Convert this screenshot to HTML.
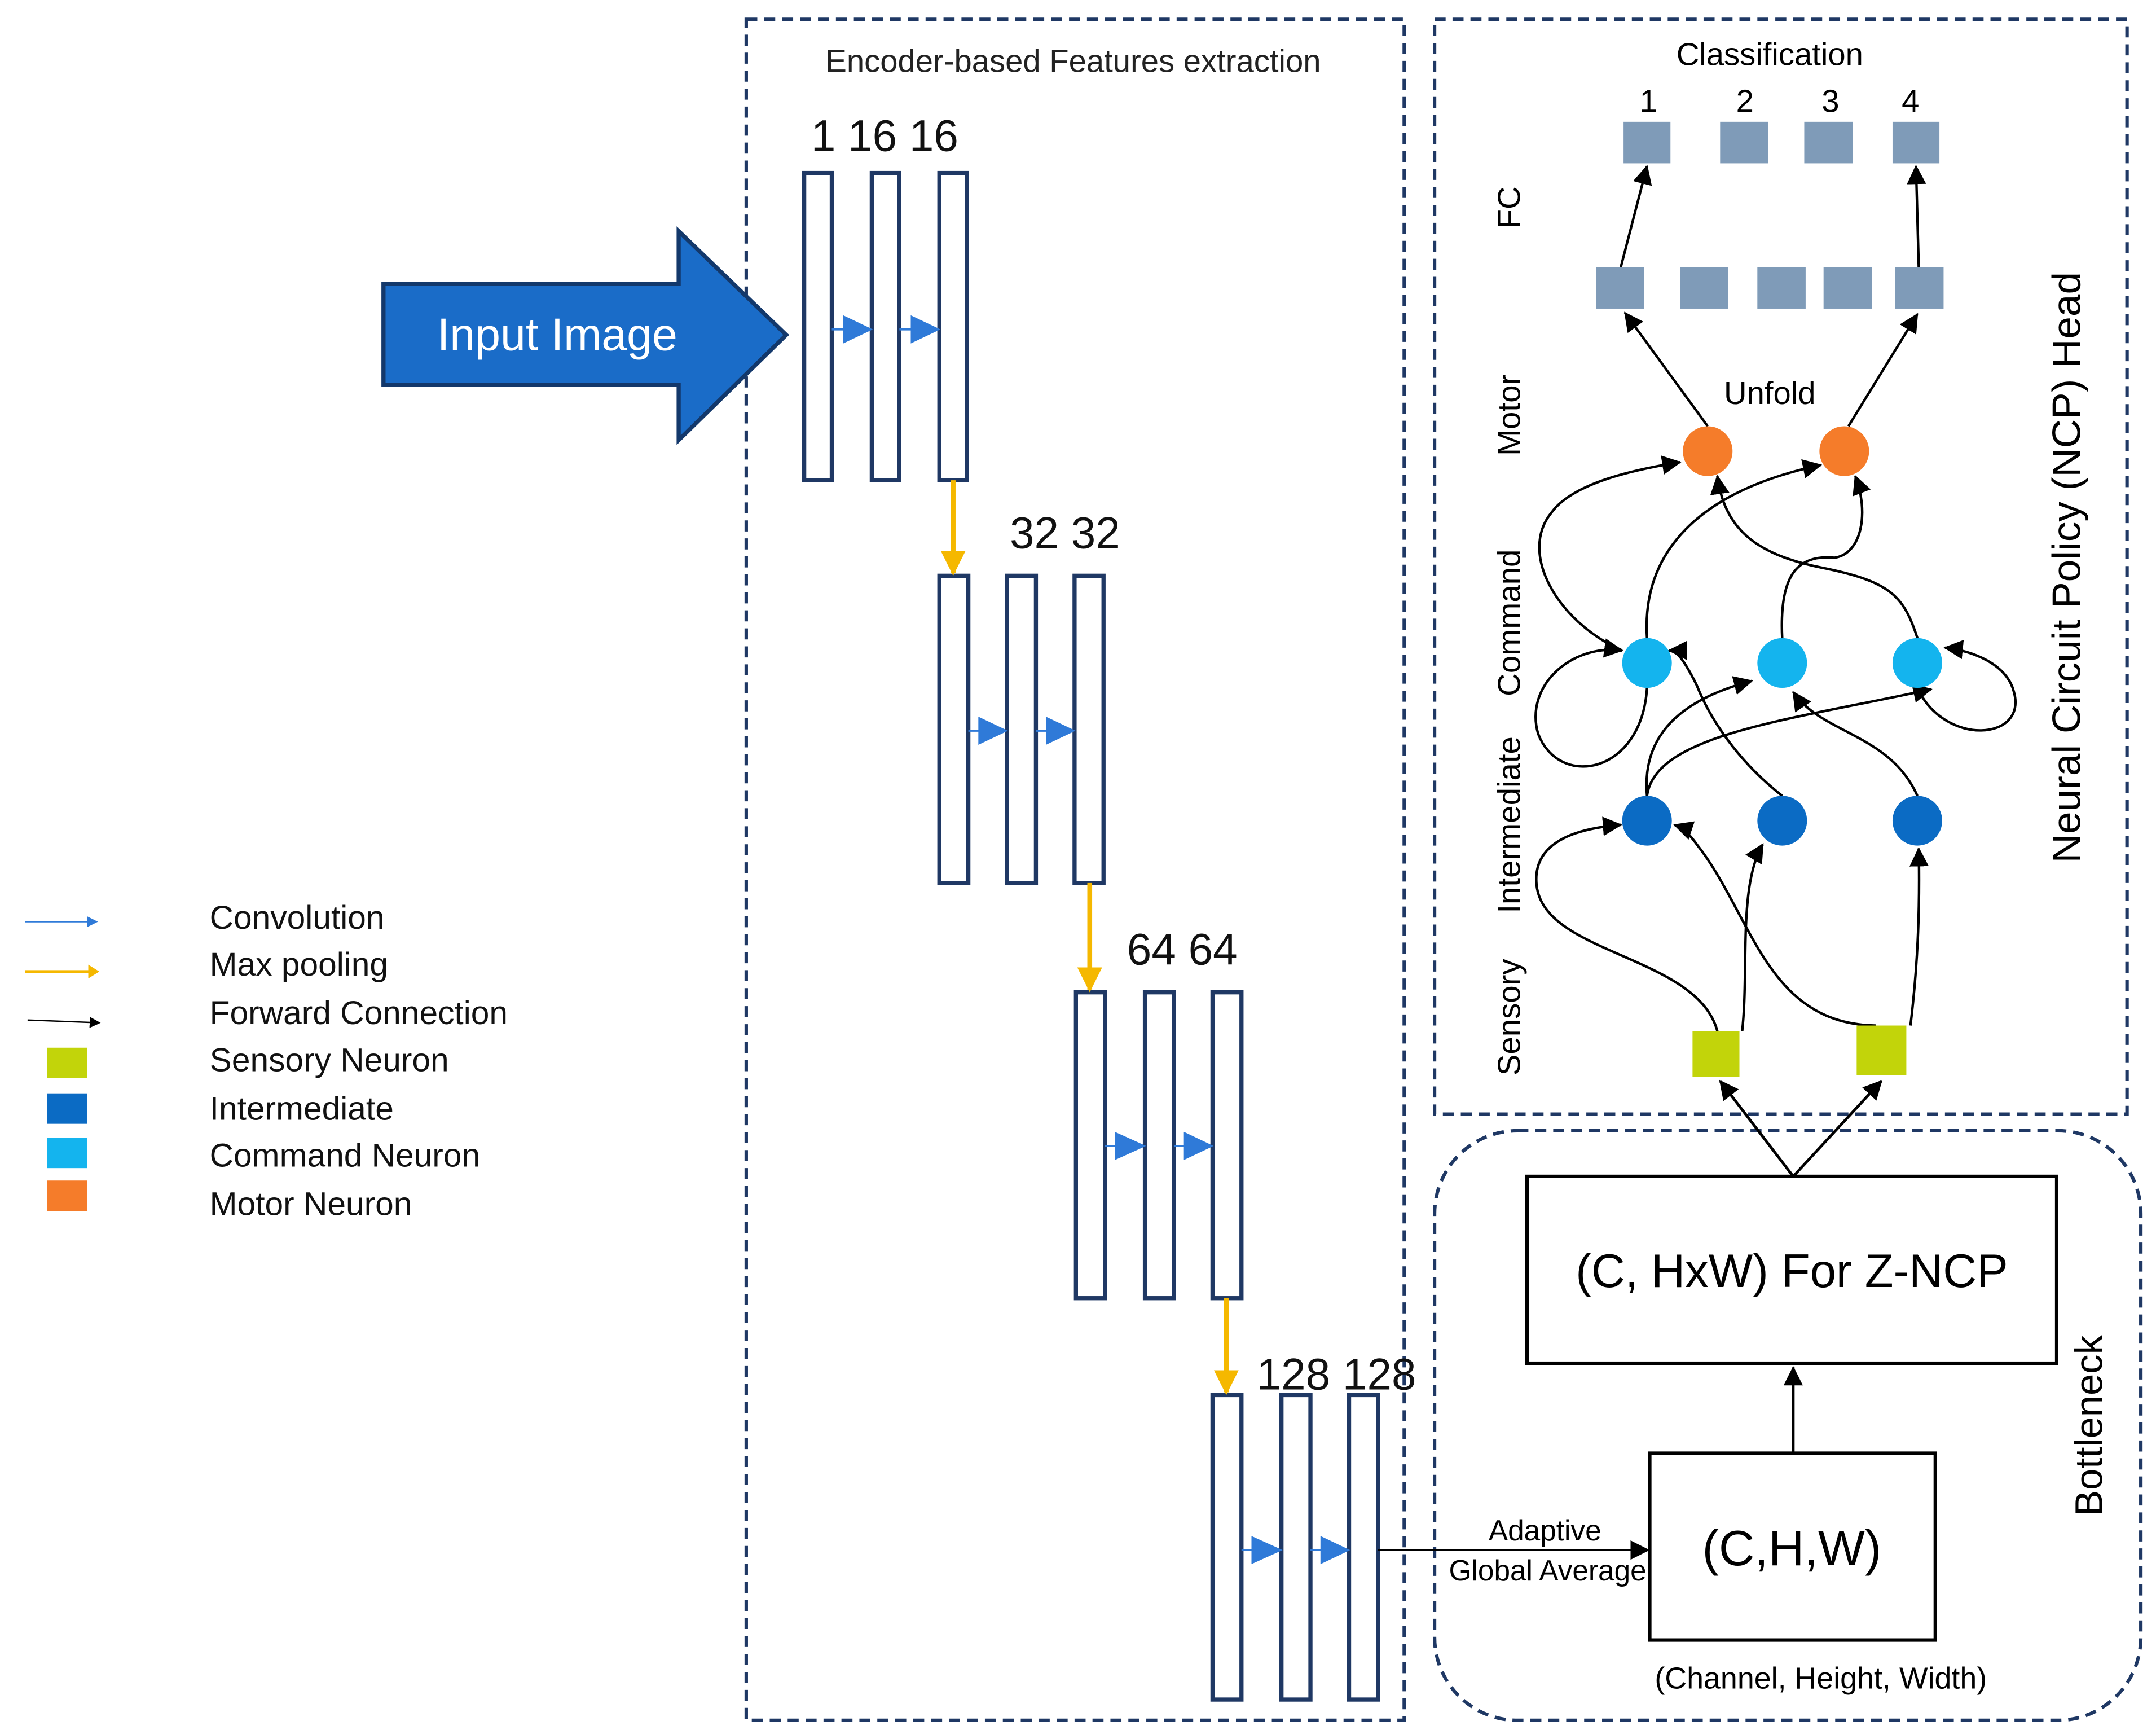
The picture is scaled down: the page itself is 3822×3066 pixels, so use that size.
<!DOCTYPE html>
<html><head><meta charset="utf-8"><style>
html,body{margin:0;padding:0;background:#fff;}
svg{display:block;}
text{font-family:"Liberation Sans",sans-serif;}
</style></head><body>
<svg width="3822" height="3066" viewBox="0 0 1563 1250" preserveAspectRatio="none" xmlns="http://www.w3.org/2000/svg">
<defs>
<marker id="bl" markerWidth="8" markerHeight="8" refX="7" refY="4" orient="auto" markerUnits="userSpaceOnUse"><path d="M0,0 L8,4 L0,8z" fill="#000"/></marker>
<marker id="bk" markerWidth="14" markerHeight="14" refX="13" refY="7" orient="auto" markerUnits="userSpaceOnUse"><path d="M0,0 L14,7 L0,14z" fill="#000"/></marker>
<marker id="yl" markerWidth="18" markerHeight="18" refX="16" refY="9" orient="auto" markerUnits="userSpaceOnUse"><path d="M0,0 L18,9 L0,18z" fill="#f5b800"/></marker>
<marker id="bu" markerWidth="8" markerHeight="8" refX="7" refY="4" orient="auto" markerUnits="userSpaceOnUse"><path d="M0,0 L8,4 L0,8z" fill="#2f7ad8"/></marker>
</defs>
<!-- dashed boxes -->
<rect x="541" y="14" width="477" height="1229" fill="none" stroke="#1f3864" stroke-width="2.5" stroke-dasharray="8,5"/>
<rect x="1040" y="14" width="502" height="791" fill="none" stroke="#1f3864" stroke-width="2.5" stroke-dasharray="8,5"/>
<rect x="1040" y="817" width="512" height="426" rx="60" fill="none" stroke="#1f3864" stroke-width="2.5" stroke-dasharray="8,5"/>
<text x="778" y="52" font-size="23" text-anchor="middle" fill="#222">Encoder-based Features extraction</text>
<!-- input arrow -->
<path d="M278,205 L492,205 L492,167 L570,242 L492,318 L492,278 L278,278z" fill="#1a6cc8" stroke="#13386b" stroke-width="3"/>
<text x="404" y="253" font-size="33" text-anchor="middle" fill="#fff">Input Image</text>
<!-- columns -->
<g fill="#fff" stroke="#1f3864" stroke-width="3">
<rect x="583" y="125" width="20" height="222"/><rect x="632" y="125" width="20" height="222"/><rect x="681" y="125" width="20" height="222"/>
<rect x="681" y="416" width="21" height="222"/><rect x="730" y="416" width="21" height="222"/><rect x="779" y="416" width="21" height="222"/>
<rect x="780" y="717" width="21" height="221"/><rect x="830" y="717" width="21" height="221"/><rect x="879" y="717" width="21" height="221"/>
<rect x="879" y="1008" width="21" height="220"/><rect x="929" y="1008" width="21" height="220"/><rect x="978" y="1008" width="21" height="220"/>
</g>
<g font-size="32" fill="#111">
<text x="588" y="109">1 16 16</text>
<text x="732" y="396">32 32</text>
<text x="817" y="697">64 64</text>
<text x="911" y="1004">128 128</text>
</g>
<!-- conv arrows -->
<g fill="#2f7ad8" stroke="#2f7ad8" stroke-width="1.5">
<line x1="603" y1="238" x2="615" y2="238"/><path d="M612,229 L631,238 L612,247z"/>
<line x1="652" y1="238" x2="664" y2="238"/><path d="M661,229 L680,238 L661,247z"/>
<line x1="702" y1="528" x2="712" y2="528"/><path d="M710,519 L729,528 L710,537z"/>
<line x1="751" y1="528" x2="761" y2="528"/><path d="M759,519 L778,528 L759,537z"/>
<line x1="801" y1="828" x2="811" y2="828"/><path d="M809,819 L829,828 L809,837z"/>
<line x1="851" y1="828" x2="861" y2="828"/><path d="M859,819 L878,828 L859,837z"/>
<line x1="900" y1="1120" x2="910" y2="1120"/><path d="M908,1111 L928,1120 L908,1129z"/>
<line x1="950" y1="1120" x2="960" y2="1120"/><path d="M958,1111 L977,1120 L958,1129z"/>
</g>
<!-- maxpool arrows -->
<g stroke="#f5b800" stroke-width="3.5">
<line x1="691" y1="347" x2="691" y2="414" marker-end="url(#yl)"/>
<line x1="790" y1="638" x2="790" y2="715" marker-end="url(#yl)"/>
<line x1="889" y1="938" x2="889" y2="1006" marker-end="url(#yl)"/>
</g>
<!-- bottleneck -->
<line x1="999" y1="1120" x2="1195" y2="1120" stroke="#000" stroke-width="1.5" marker-end="url(#bk)"/>
<text x="1120" y="1113" font-size="21" text-anchor="middle">Adaptive</text>
<text x="1122" y="1142" font-size="21" text-anchor="middle">Global Average</text>
<rect x="1196" y="1050" width="207" height="135" fill="none" stroke="#000" stroke-width="2.5"/>
<text x="1299" y="1131" font-size="36" text-anchor="middle">(C,H,W)</text>
<text x="1320" y="1220" font-size="22" text-anchor="middle">(Channel, Height, Width)</text>
<rect x="1107" y="850" width="384" height="135" fill="none" stroke="#000" stroke-width="2.5"/>
<text x="1299" y="930" font-size="34" text-anchor="middle">(C, HxW) For Z-NCP</text>
<line x1="1300" y1="1050" x2="1300" y2="988" stroke="#000" stroke-width="2" marker-end="url(#bk)"/>
<line x1="1300" y1="850" x2="1247" y2="781" stroke="#000" stroke-width="2" marker-end="url(#bk)"/>
<line x1="1300" y1="850" x2="1364" y2="781" stroke="#000" stroke-width="2" marker-end="url(#bk)"/>
<text transform="translate(1524,1030) rotate(-90)" font-size="28" text-anchor="middle">Bottleneck</text>
<!-- NCP -->
<text x="1283" y="47" font-size="23" text-anchor="middle">Classification</text>
<g font-size="23" text-anchor="middle"><text x="1195" y="81">1</text><text x="1265" y="81">2</text><text x="1327" y="81">3</text><text x="1385" y="81">4</text></g>
<g fill="#7f9bb8">
<rect x="1177" y="88" width="34" height="30"/><rect x="1247" y="88" width="35" height="30"/><rect x="1308" y="88" width="35" height="30"/><rect x="1372" y="88" width="34" height="30"/>
<rect x="1157" y="193" width="35" height="30"/><rect x="1218" y="193" width="35" height="30"/><rect x="1274" y="193" width="35" height="30"/><rect x="1322" y="193" width="35" height="30"/><rect x="1374" y="193" width="35" height="30"/>
</g>
<g stroke="#000" stroke-width="1.8" fill="none" marker-end="url(#bk)">
<line x1="1175" y1="193" x2="1194" y2="120"/>
<line x1="1391" y1="193" x2="1389" y2="120"/>
<line x1="1238" y1="308" x2="1178" y2="226"/>
<line x1="1340" y1="308" x2="1390" y2="227"/>
<!-- sensory to intermediate -->
<path d="M1245,745 C1230,690 1120,690 1114,640 C1110,605 1150,598 1175,596"/>
<path d="M1263,745 C1268,700 1260,640 1278,610"/>
<path d="M1360,741 C1280,740 1270,660 1230,610 C1225,603 1220,598 1214,596"/>
<path d="M1385,741 C1390,700 1392,660 1391,613"/>
<!-- intermediate to command -->
<path d="M1194,575 C1190,530 1220,505 1270,492"/>
<path d="M1194,575 C1200,530 1300,520 1400,498"/>
<path d="M1292,575 C1260,550 1240,520 1230,495 C1220,475 1215,470 1210,470"/>
<path d="M1390,575 C1370,530 1320,530 1300,500"/>
<!-- command loops and to motor -->
<path d="M1194,497 C1190,560 1130,570 1115,530 C1105,495 1140,465 1176,470"/>
<path d="M1390,497 C1410,540 1470,535 1460,500 C1455,480 1430,470 1410,468"/>
<path d="M1176,470 C1130,450 1100,400 1125,370 C1140,350 1180,340 1218,334"/>
<path d="M1194,461 C1190,400 1230,355 1320,336"/>
<path d="M1292,461 C1290,420 1300,400 1330,403 C1350,400 1355,370 1345,344"/>
<path d="M1390,461 C1380,430 1370,420 1320,410 C1270,400 1250,380 1245,344"/>
</g>
<circle cx="1238" cy="326" r="18" fill="#f57c2a"/><circle cx="1337" cy="326" r="18" fill="#f57c2a"/>
<circle cx="1194" cy="479" r="18" fill="#14b4ee"/><circle cx="1292" cy="479" r="18" fill="#14b4ee"/><circle cx="1390" cy="479" r="18" fill="#14b4ee"/>
<circle cx="1194" cy="593" r="18" fill="#0b6bc4"/><circle cx="1292" cy="593" r="18" fill="#0b6bc4"/><circle cx="1390" cy="593" r="18" fill="#0b6bc4"/>
<rect x="1227" y="745" width="34" height="33" fill="#c2d40a"/><rect x="1346" y="741" width="36" height="36" fill="#c2d40a"/>
<text x="1283" y="292" font-size="23" text-anchor="middle">Unfold</text>
<g font-size="23" text-anchor="middle">
<text transform="translate(1102,150) rotate(-90)">FC</text>
<text transform="translate(1102,300) rotate(-90)">Motor</text>
<text transform="translate(1102,450) rotate(-90)">Command</text>
<text transform="translate(1102,596) rotate(-90)">Intermediate</text>
<text transform="translate(1102,735) rotate(-90)">Sensory</text>
</g>
<text transform="translate(1508,410) rotate(-90)" font-size="29" text-anchor="middle">Neural Circuit Policy (NCP) Head</text>
<!-- legend -->
<line x1="18" y1="666" x2="70" y2="666" stroke="#2f7ad8" stroke-width="1" marker-end="url(#bu)"/>
<line x1="18" y1="702" x2="70" y2="702" stroke="#f5b800" stroke-width="2"/><path d="M64,697 L72,702 L64,707z" fill="#f5b800"/>
<line x1="20" y1="737" x2="72" y2="739" stroke="#000" stroke-width="1" marker-end="url(#bl)"/>
<rect x="34" y="757" width="29" height="22" fill="#c2d40a"/>
<rect x="34" y="790" width="29" height="22" fill="#0b6bc4"/>
<rect x="34" y="822" width="29" height="22" fill="#14b4ee"/>
<rect x="34" y="853" width="29" height="22" fill="#f57c2a"/>
<g font-size="24" fill="#111">
<text x="152" y="671">Convolution</text>
<text x="152" y="705">Max pooling</text>
<text x="152" y="740">Forward Connection</text>
<text x="152" y="774">Sensory Neuron</text>
<text x="152" y="809">Intermediate</text>
<text x="152" y="843">Command Neuron</text>
<text x="152" y="878">Motor Neuron</text>
</g>
</svg>
</body></html>
